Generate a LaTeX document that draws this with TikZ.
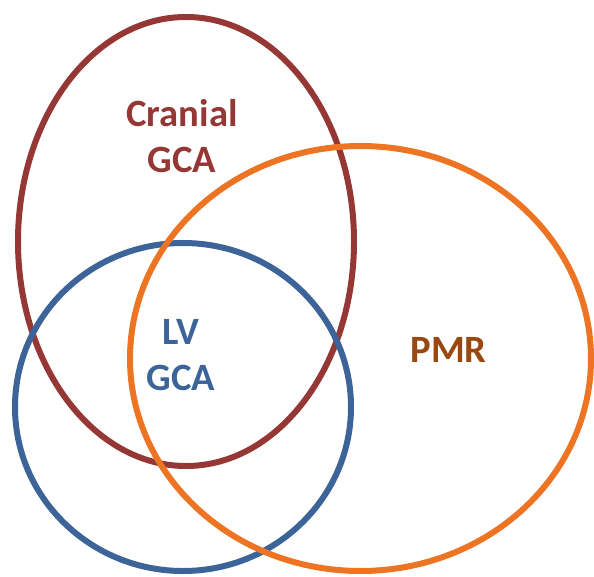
\documentclass[tikz,border=0pt]{standalone}
\usepackage{fontspec}
\setmainfont{Carlito}
\usepackage{tikz}
\usetikzlibrary{positioning}
\definecolor{cranialcolor}{RGB}{149, 55, 53}
\definecolor{lvcolor}{RGB}{60, 100, 152}
\definecolor{pmrcolor}{RGB}{236, 116, 34}
\definecolor{pmrtext}{RGB}{152, 72, 16}

\begin{document}
\begin{tikzpicture}[
    x=0.02cm, y=-0.02cm,
    set/.style={line width=0.12cm},
    label/.style={font=\fontsize{22}{26.5}\selectfont\bfseries, align=center}
]
\useasboundingbox (0,0) rectangle (594,577);

% Sets
\draw[set, draw=cranialcolor] (186,241.5) ellipse [x radius=168, y radius=224.5];
\draw[set, draw=lvcolor] (183,407) ellipse [x radius=168, y radius=164];
\draw[set, draw=pmrcolor] (360.5,358.5) ellipse [x radius=230.5, y radius=212.5];

% Labels
\node[label, text=cranialcolor] (cranial) at (182,136) {Cranial\\GCA};
\node[label, text=lvcolor] (lv) at (181,355) {LV\\GCA};
\node[label, text=pmrtext] (pmr) at (448.5,350) {PMR};

\end{tikzpicture}
\end{document}
